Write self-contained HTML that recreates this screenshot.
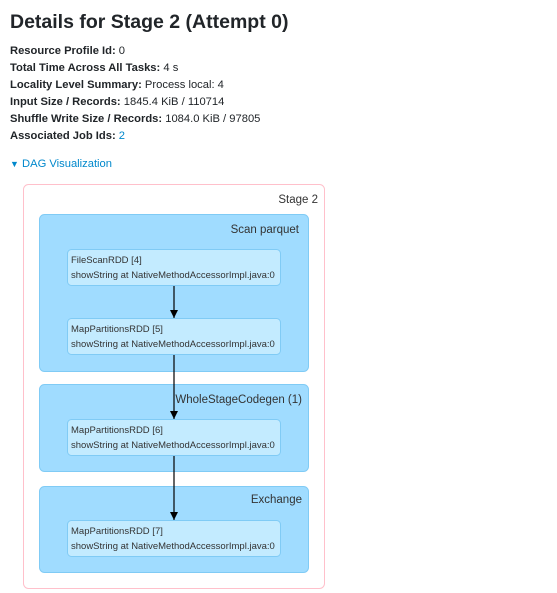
<!DOCTYPE html>
<html><head><meta charset="utf-8"><style>
body{margin:0;width:557px;height:593px;background:#fff;font-family:"Liberation Sans",sans-serif;color:#212529;position:relative;overflow:hidden}
h3{position:absolute;left:10px;top:8px;margin:0;font-size:19.5px;font-weight:bold;line-height:28px}
.l{position:absolute;left:10px;font-size:11.2px;line-height:14px}
.l b{font-weight:bold}
a{color:#0088cc;text-decoration:none}
svg{position:absolute;left:0;top:0}
</style></head><body>
<h3>Details for Stage 2 (Attempt 0)</h3>
<div class="l" style="top:44px"><b>Resource Profile Id:</b> 0</div>
<div class="l" style="top:61px"><b>Total Time Across All Tasks:</b> 4 s</div>
<div class="l" style="top:78px"><b>Locality Level Summary:</b> Process local: 4</div>
<div class="l" style="top:95px"><b>Input Size / Records:</b> 1845.4 KiB / 110714</div>
<div class="l" style="top:112px"><b>Shuffle Write Size / Records:</b> 1084.0 KiB / 97805</div>
<div class="l" style="top:129px"><b>Associated Job Ids:</b> <a>2</a></div>
<div class="l" style="top:157px"><a><span style="font-size:9px">&#9660;</span> DAG Visualization</a></div>
<svg width="557" height="593" font-family="Liberation Sans, sans-serif">
<defs><marker id="ar" markerWidth="8" markerHeight="8" refX="8" refY="4" orient="auto" markerUnits="userSpaceOnUse"><path d="M0,0 L8,4 L0,8 z" fill="#000"/></marker></defs>
<rect x="23.5" y="184.5" width="301" height="404" rx="5" fill="#fff" stroke="#ffc0cb"/>
<text x="318" y="203" font-size="11.5" text-anchor="end" fill="#333">Stage 2</text>
<g fill="#a0dcff" stroke="#80cbf5">
<rect x="39.5" y="214.5" width="269" height="157" rx="5"/>
<rect x="39.5" y="384.5" width="269" height="87" rx="5"/>
<rect x="39.5" y="486.5" width="269" height="86" rx="5"/>
</g>
<g font-size="11.5" fill="#333" text-anchor="end">
<text x="299" y="233">Scan parquet</text>
<text x="302" y="403">WholeStageCodegen (1)</text>
<text x="302" y="503">Exchange</text>
</g>
<g fill="#c3ebff" stroke="#80cbf5">
<rect x="67.5" y="249.5" width="213" height="36" rx="4"/>
<rect x="67.5" y="318.5" width="213" height="36" rx="4"/>
<rect x="67.5" y="419.5" width="213" height="36" rx="4"/>
<rect x="67.5" y="520.5" width="213" height="36" rx="4"/>
</g>
<g font-size="9.5" fill="#333">
<text x="71" y="263">FileScanRDD [4]</text><text x="71" y="278">showString at NativeMethodAccessorImpl.java:0</text>
<text x="71" y="332">MapPartitionsRDD [5]</text><text x="71" y="347">showString at NativeMethodAccessorImpl.java:0</text>
<text x="71" y="433">MapPartitionsRDD [6]</text><text x="71" y="448">showString at NativeMethodAccessorImpl.java:0</text>
<text x="71" y="534">MapPartitionsRDD [7]</text><text x="71" y="549">showString at NativeMethodAccessorImpl.java:0</text>
</g>
<g stroke="#000" stroke-width="1.2" marker-end="url(#ar)">
<line x1="174" y1="286" x2="174" y2="318"/>
<line x1="174" y1="355" x2="174" y2="419"/>
<line x1="174" y1="456" x2="174" y2="520"/>
</g>
</svg>
</body></html>
